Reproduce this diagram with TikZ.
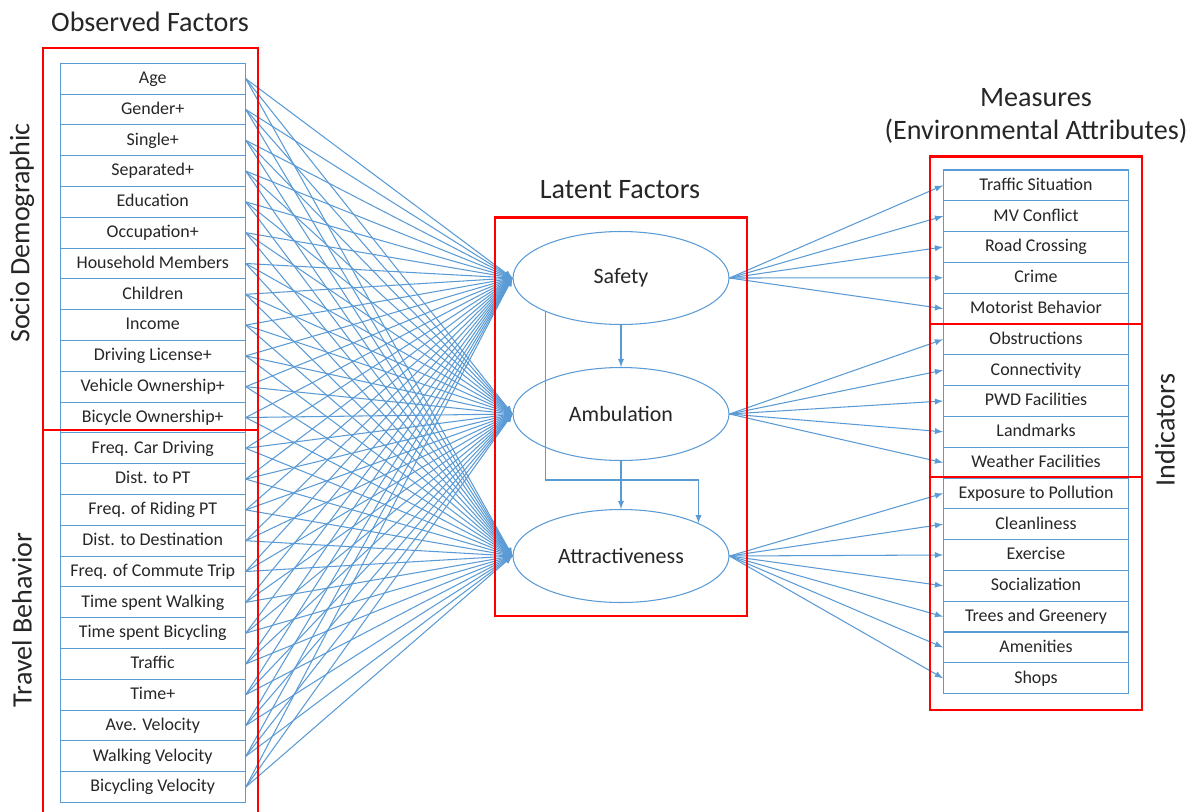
\documentclass[tikz,border=0pt]{standalone}
\usepackage{fontspec}
\setmainfont{Carlito}
\usepackage{tikz}
\usetikzlibrary{arrows,shapes.geometric}
\definecolor{lineblue}{RGB}{91,155,213}
\definecolor{txtgray}{RGB}{38,38,38}

\begin{document}
\begin{tikzpicture}[x=0.02cm, y=-0.02cm,
        cell/.style={draw=lineblue, line width=0.6pt, minimum width=3.7cm, minimum height=0.616cm, inner sep=0pt, text height=1.6ex, text depth=0.45ex, text=txtgray, font=\fontsize{10.2}{12}\selectfont},
        factor/.style={ellipse, draw=lineblue, line width=0.6pt, minimum width=4.32cm, minimum height=1.86cm, inner sep=0pt, text=txtgray, font=\fontsize{12.5}{14}\selectfont},
        heading/.style={text=txtgray, font=\fontsize{16}{19}\selectfont},
        redframe/.style={red, line width=1.4pt},
        link/.style={lineblue, line width=0.6pt, -latex}]
        \useasboundingbox (0,0) rectangle (1199,811);
        
        \foreach \name [count=\i] in {Age, Gender+, Single+, Separated+, Education, Occupation+, Household Members, Children, Income, Driving License+, Vehicle Ownership+, Bicycle Ownership+, Freq. Car Driving, Dist. to PT, Freq. of Riding PT, Dist. to Destination, Freq. of Commute Trip, Time spent Walking, Time spent Bicycling, Traffic, Time+, Ave. Velocity, Walking Velocity, Bicycling Velocity}
            \node[cell] (o\i) at (152.75, {47.9+30.8*\i}) {\name};
        
        \foreach \name [count=\j] in {Traffic Situation, MV Conflict, Road Crossing, Crime, Motorist Behavior, Obstructions, Connectivity, PWD Facilities, Landmarks, Weather Facilities, Exposure to Pollution, Cleanliness, Exercise, Socialization, Trees and Greenery, Amenities, Shops}
            \node[cell] (m\j) at (1036, {154.6+30.8*\j}) {\name};
        
        \node[factor] (safety) at (621,278) {Safety};
        \node[factor] (ambul) at (621,414) {Ambulation};
        \node[factor] (attract) at (621,556) {Attractiveness};
        
        % observed factors into every latent factor
        \foreach \i in {1,...,24}
            \foreach \f in {safety,ambul,attract}
                \draw[link] (o\i.east) -- (\f.west);
        
        \foreach \j in {1,...,5} \draw[link] (safety.east) -- (m\j.west);
        \foreach \j in {6,...,10} \draw[link] (ambul.east) -- (m\j.west);
        \foreach \j in {11,...,17} \draw[link] (attract.east) -- (m\j.west);
        
        \draw[link] (safety.south) -- (ambul.north);
        \draw[link] (ambul.south) -- (attract.north);
        \coordinate (bend) at (0,480);
        \draw[link] (safety.204) |- (attract.23 |- bend) -- (attract.23);
        
        \draw[redframe] (43,48) rectangle (258,430);
        \draw[redframe] (43,820) -- (43,430) -- (258,430) -- (258,820);
        \draw[redframe] (495,217.5) rectangle (747,616);
        \draw[redframe] (930,156.5) rectangle (1142,324);
        \draw[redframe] (930,324) rectangle (1142,477);
        \draw[redframe] (930,477) rectangle (1142,710);
        
        \node[heading] at (150,22) {Observed Factors};
        \node[heading] at (620,190) {Latent Factors};
        \node[heading] at (1036,98) {Measures};
        \node[heading] at (1036,131) {(Environmental Attributes)};
        \node[heading, rotate=90] at (22,233) {Socio Demographic};
        \node[heading, rotate=90] at (22,620) {Travel Behavior};
        \node[heading, rotate=90] at (1165,430) {Indicators};
        
\end{tikzpicture}
\end{document}
